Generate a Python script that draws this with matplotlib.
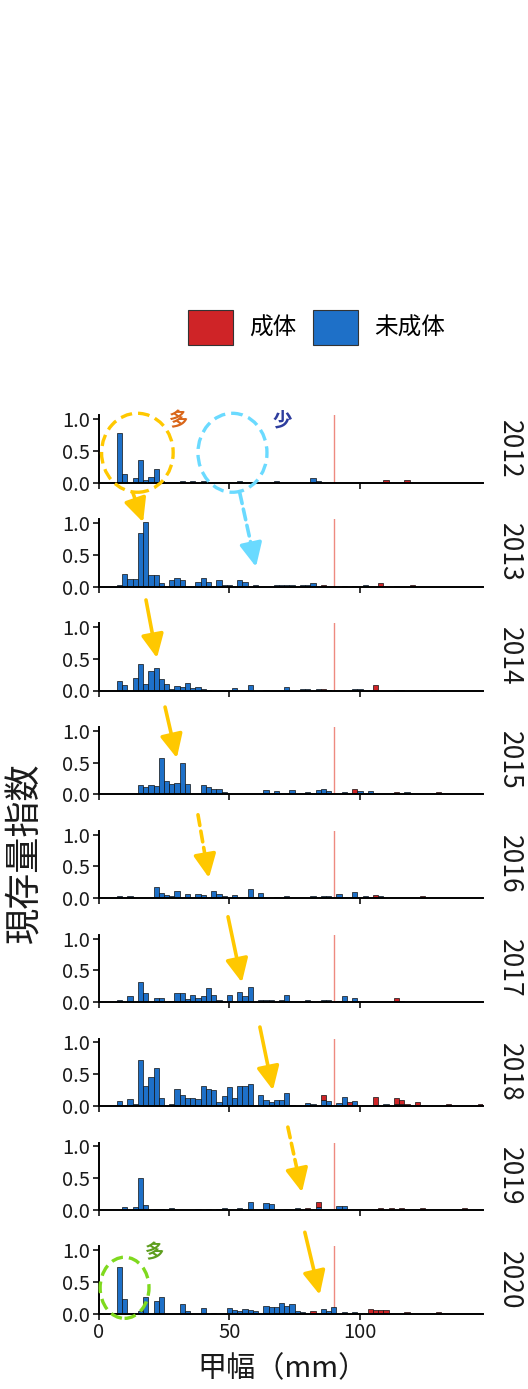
import matplotlib
matplotlib.use("Agg")
import matplotlib.pyplot as plt
from matplotlib.patches import Ellipse, Patch, FancyArrowPatch

plt.rcParams['font.family'] = ['Noto Sans CJK JP', 'DejaVu Sans']

# carapace width bins (mm, bin centres) -> stock index, immature / adult
years = [2012, 2013, 2014, 2015, 2016, 2017, 2018, 2019, 2020]

imm2012 = {6: 0.01, 8: 0.78, 10: 0.13, 14: 0.07, 16: 0.35, 18: 0.04, 20: 0.09, 22: 0.22, 24: 0.02,
           32: 0.03, 36: 0.03, 40: 0.03, 54: 0.03, 68: 0.03, 82: 0.08, 84: 0.03}
ad2012 = {110: 0.04, 118: 0.04}

imm2013 = {8: 0.02, 10: 0.2, 12: 0.12, 14: 0.12, 16: 0.84, 18: 1.02, 20: 0.19, 22: 0.19, 24: 0.06,
           28: 0.1, 30: 0.14, 32: 0.1, 38: 0.07, 40: 0.14, 42: 0.08, 46: 0.1, 48: 0.03, 50: 0.03,
           54: 0.1, 56: 0.07, 60: 0.02, 68: 0.02, 70: 0.02, 72: 0.03, 74: 0.03, 78: 0.03, 80: 0.03,
           82: 0.06, 94: 0.01, 98: 0.01, 102: 0.03, 114: 0.01}
ad2013 = {86: 0.03, 108: 0.06, 120: 0.02}

imm2014 = {8: 0.15, 10: 0.09, 14: 0.2, 16: 0.42, 18: 0.1, 20: 0.31, 22: 0.36, 24: 0.18, 26: 0.1,
           28: 0.03, 30: 0.07, 32: 0.05, 34: 0.11, 36: 0.04, 38: 0.05, 40: 0.03, 42: 0.01, 52: 0.04,
           58: 0.09, 64: 0.01, 72: 0.05, 78: 0.02, 80: 0.03, 84: 0.02, 88: 0.01, 98: 0.03, 100: 0.03,
           114: 0.01, 116: 0.01, 128: 0.01}
ad2014 = {86: 0.03, 106: 0.09}

imm2015 = {10: 0.01, 12: 0.01, 16: 0.15, 18: 0.12, 20: 0.15, 22: 0.13, 24: 0.57, 26: 0.21, 28: 0.17,
           30: 0.18, 32: 0.5, 34: 0.17, 40: 0.14, 42: 0.11, 44: 0.09, 46: 0.09, 48: 0.04, 64: 0.07,
           68: 0.05, 70: 0.01, 74: 0.07, 80: 0.03, 84: 0.07, 86: 0.08, 88: 0.05, 94: 0.04, 100: 0.05,
           104: 0.05, 110: 0.01, 118: 0.03}
ad2015 = {98: 0.08, 114: 0.03, 130: 0.03}

imm2016 = {8: 0.03, 12: 0.03, 22: 0.17, 24: 0.09, 26: 0.05, 28: 0.04, 30: 0.12, 34: 0.06, 38: 0.06,
           40: 0.05, 44: 0.12, 46: 0.06, 48: 0.04, 52: 0.05, 58: 0.15, 62: 0.09, 68: 0.02, 72: 0.03,
           82: 0.04, 86: 0.04, 88: 0.03, 92: 0.06, 98: 0.1, 102: 0.04, 106: 0.02, 108: 0.03}
ad2016 = {106: 0.03, 124: 0.03}

imm2017 = {8: 0.03, 12: 0.1, 16: 0.31, 18: 0.14, 22: 0.07, 24: 0.06, 28: 0.02, 30: 0.14, 32: 0.14,
           34: 0.05, 36: 0.12, 38: 0.06, 40: 0.1, 42: 0.22, 44: 0.11, 46: 0.04, 50: 0.11, 54: 0.16,
           56: 0.09, 58: 0.24, 62: 0.04, 64: 0.03, 66: 0.03, 70: 0.04, 72: 0.11, 80: 0.04, 86: 0.03,
           88: 0.04, 92: 0.02, 94: 0.1, 98: 0.06, 116: 0.02}
ad2017 = {114: 0.07}

imm2018 = {8: 0.08, 12: 0.11, 14: 0.04, 16: 0.72, 18: 0.31, 20: 0.46, 22: 0.6, 24: 0.13, 28: 0.03,
           30: 0.27, 32: 0.18, 34: 0.13, 36: 0.13, 38: 0.11, 40: 0.31, 42: 0.27, 44: 0.26, 46: 0.07,
           48: 0.16, 50: 0.3, 52: 0.12, 54: 0.31, 56: 0.31, 58: 0.34, 62: 0.17, 64: 0.09, 66: 0.07,
           68: 0.1, 70: 0.09, 72: 0.2, 74: 0.01, 80: 0.05, 82: 0.04, 86: 0.1, 88: 0.08, 92: 0.05,
           94: 0.15, 98: 0.08, 106: 0.02, 110: 0.04, 114: 0.03, 116: 0.03}
ad2018 = {86: 0.08, 96: 0.06, 106: 0.12, 114: 0.09, 116: 0.07, 118: 0.04, 122: 0.06, 134: 0.03, 146: 0.03}

imm2019 = {10: 0.04, 14: 0.04, 16: 0.51, 18: 0.08, 22: 0.01, 24: 0.01, 28: 0.03, 38: 0.01, 42: 0.02,
           46: 0.02, 48: 0.03, 54: 0.03, 58: 0.12, 64: 0.11, 66: 0.1, 72: 0.01, 76: 0.03, 84: 0.05,
           92: 0.07, 94: 0.07, 100: 0.005}
ad2019 = {80: 0.03, 84: 0.07, 108: 0.03, 112: 0.03, 116: 0.03, 124: 0.03, 140: 0.03}

imm2020 = {8: 0.73, 10: 0.24, 14: 0.02, 16: 0.05, 18: 0.27, 22: 0.2, 24: 0.27, 32: 0.16, 34: 0.04,
           40: 0.09, 44: 0.01, 50: 0.09, 52: 0.06, 54: 0.05, 56: 0.07, 58: 0.06, 60: 0.04, 64: 0.12,
           66: 0.11, 68: 0.11, 70: 0.17, 72: 0.12, 74: 0.15, 76: 0.04, 78: 0.03, 86: 0.07, 88: 0.04,
           90: 0.11, 94: 0.03, 98: 0.03}
ad2020 = {82: 0.04, 104: 0.08, 106: 0.06, 108: 0.06, 110: 0.06, 118: 0.03, 130: 0.03}

immature = [imm2012, imm2013, imm2014, imm2015, imm2016, imm2017, imm2018, imm2019, imm2020]
adult = [ad2012, ad2013, ad2014, ad2015, ad2016, ad2017, ad2018, ad2019, ad2020]

maturity_line = 90
col_adult = '#CF2427'
col_imm = '#1E70C8'

#%%
fig = plt.figure(figsize=(5.28, 13.89), dpi=100)
H = 1389.0
W = 528.0
left = 98.7 / W
width = (483.3 - 98.7) / W
axes = []
for i, yr in enumerate(years):
    y0 = 482.7 + i * 103.9
    ax = fig.add_axes([left, 1 - y0 / H, width, 67.5 / H])
    ax.patch.set_alpha(0)
    imm = immature[i]
    ad = adult[i]
    ax.bar(list(imm.keys()), list(imm.values()), width=2, color=col_imm,
           edgecolor='#111111', linewidth=0.5, zorder=2)
    ax.bar(list(ad.keys()), list(ad.values()), width=2,
           bottom=[imm.get(k, 0) for k in ad.keys()], color=col_adult,
           edgecolor='#111111', linewidth=0.5, zorder=2)
    ax.axvline(maturity_line, color='#EE8A80', lw=1.0, zorder=1)
    ax.set_xlim(0, 147.2)
    ax.set_ylim(0, 1.06)
    ax.set_xticks([0, 50, 100])
    ax.set_yticks([0, 0.5, 1.0])
    ax.set_yticklabels(['0.0', '0.5', '1.0'])
    for s in ['top', 'right']:
        ax.spines[s].set_visible(False)
    for s in ['left', 'bottom']:
        ax.spines[s].set_linewidth(1.4)
        ax.spines[s].set_color('black')
    ax.tick_params(length=4, width=1.4, color='#333333', labelsize=14.5,
                   labelcolor='#1a1a1a', pad=2)
    if i < len(years) - 1:
        ax.set_xticklabels([])
    ax.text(1.069, 0.5, str(yr), transform=ax.transAxes, rotation=-90,
            ha='center', va='center', fontsize=19, color='#1a1a1a')
    axes.append(ax)

fig.text(282.5 / W, 1 - 1369 / H, '甲幅（mm）', ha='center', va='center', fontsize=21, color='#1a1a1a')
fig.text(25 / W, 1 - 853 / H, '現存量指数', ha='center', va='center', rotation=90, fontsize=26, color='#1a1a1a')

handles = [Patch(facecolor=col_adult, edgecolor='#333333', linewidth=0.8),
           Patch(facecolor=col_imm, edgecolor='#333333', linewidth=0.8)]
fig.legend(handles, ['成体', '未成体'], loc='center', bbox_to_anchor=(316.5 / W, 1 - 327.5 / H),
           ncol=2, frameon=False, fontsize=17, handlelength=1.9, handleheight=1.9,
           handletextpad=0.7, columnspacing=0.7)

#%% annotations
yellow = '#FFC800'
cyan = '#6ADAFF'
dash = (0, (3.5, 1.8))
a12, a20 = axes[0], axes[-1]
a12.add_patch(Ellipse((14.8, 0.47), 27.4, 1.24, fill=False, ec=yellow, lw=2.4, ls=dash, clip_on=False, zorder=5))
a12.add_patch(Ellipse((51.2, 0.47), 26.4, 1.24, fill=False, ec=cyan, lw=2.4, ls=dash, clip_on=False, zorder=5))
a12.text(30.8, 0.97, '多', color='#D9661A', fontsize=14, fontweight='bold', ha='center', va='center')
a12.text(70.2, 0.97, '少', color='#2E3D9E', fontsize=14, fontweight='bold', ha='center', va='center')
a20.add_patch(Ellipse((9.9, 0.41), 18.7, 0.96, fill=False, ec='#7FD91E', lw=2.4, ls=dash, clip_on=False, zorder=5))
a20.text(21.5, 0.96, '多', color='#5E9E1E', fontsize=14, fontweight='bold', ha='center', va='center')

# (start panel, start point, end panel, end point, dashed, colour)
arrows = [
    (0, (13.1, -0.16), 1, (17.0, 1.01), False, yellow),
    (1, (18.1, -0.21), 2, (22.3, 0.51), False, yellow),
    (2, (25.4, -0.26), 3, (29.9, 0.57), False, yellow),
    (3, (38.0, -0.32), 4, (42.2, 0.32), True, yellow),
    (4, (49.5, -0.29), 5, (54.8, 0.31), False, yellow),
    (5, (61.7, -0.39), 6, (66.7, 0.25), False, yellow),
    (6, (72.4, -0.33), 7, (77.8, 0.28), True, yellow),
    (7, (78.9, -0.35), 8, (84.6, 0.30), False, yellow),
    (0, (54.0, -0.16), 1, (60.2, 0.31), True, cyan),
]
to_fig = fig.transFigure.inverted()
head = '-|>,head_length=1.3,head_width=0.62'
for ia, pa, ib, pb, dashed, c in arrows:
    fa = to_fig.transform(axes[ia].transData.transform(pa))
    fb = to_fig.transform(axes[ib].transData.transform(pb))
    if dashed:
        # dashed shaft, then a solid head on the last bit
        mid = fa + 0.75 * (fb - fa)
        fig.add_artist(FancyArrowPatch(fa, mid, transform=fig.transFigure, arrowstyle='-',
                                       color=c, lw=2.6, ls=(0, (3, 1.6)), shrinkA=0, shrinkB=0, zorder=6))
        fig.add_artist(FancyArrowPatch(mid, fb, transform=fig.transFigure, arrowstyle=head,
                                       mutation_scale=11, color=c, lw=2.6, shrinkA=0, shrinkB=0, zorder=6))
    else:
        fig.add_artist(FancyArrowPatch(fa, fb, transform=fig.transFigure, arrowstyle=head,
                                       mutation_scale=11, color=c, lw=2.6, shrinkA=0, shrinkB=0, zorder=6))

fig.savefig('out.png', dpi=100)
